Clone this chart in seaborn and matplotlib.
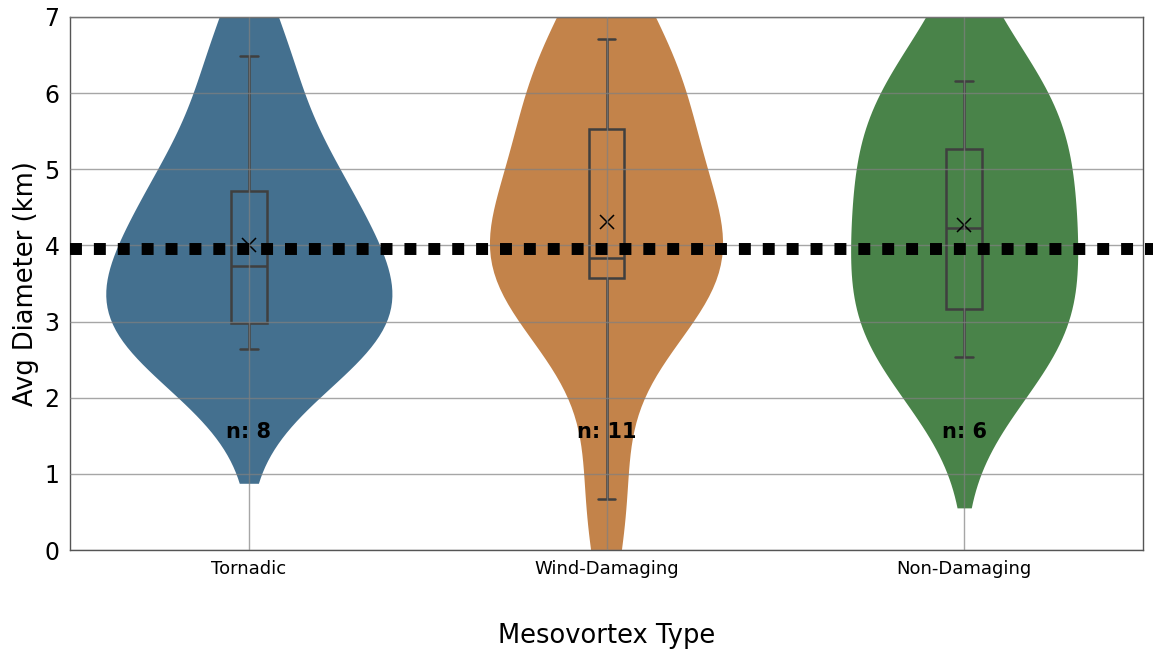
import numpy as np
import pandas as pd
import matplotlib
matplotlib.use("Agg")
import matplotlib.pyplot as plt
import seaborn as sns

# Average mesovortex diameters (km) per category
categories = ["Tornadic", "Wind-Damaging", "Non-Damaging"]
tornadic = [2.64, 2.70, 3.07, 3.45, 4.00, 4.57, 5.13, 6.49]
wind_damaging = [0.67, 3.30, 3.52, 3.63, 3.75, 3.84, 4.60, 5.30, 5.76, 6.34, 6.71]
non_damaging = [2.54, 2.92, 3.90, 4.57, 5.49, 6.16]
threshold = 3.95

df = pd.DataFrame({
    "type": (["Tornadic"] * len(tornadic)
             + ["Wind-Damaging"] * len(wind_damaging)
             + ["Non-Damaging"] * len(non_damaging)),
    "diameter": tornadic + wind_damaging + non_damaging,
})

sns.set_style("white")
plt.rcParams["font.family"] = ["DejaVu Sans"]
plt.rcParams.update({"text.color": "black", "axes.labelcolor": "black",
                     "xtick.color": "black", "ytick.color": "black"})

fig = plt.figure(figsize=(11.53, 6.51), dpi=100)
ax = fig.add_axes([70 / 1153, 101 / 651, 1073 / 1153, 533 / 651])

# One shared density scale (area-normalised) across all three violins
sns.violinplot(data=df, x="type", y="diameter", order=categories,
               color="gray", density_norm="area", inner=None,
               linewidth=0, ax=ax)
palette = [sns.desaturate(c, 0.5) for c in sns.color_palette("tab10", 3)]
for coll, col in zip(ax.collections, palette):
    coll.set_facecolor(col)
    coll.set_edgecolor(col)

sns.boxplot(data=df, x="type", y="diameter", order=categories,
            width=0.1, whis=1.5, showfliers=False, showmeans=True,
            color="#3f3f3f", linecolor="#3f3f3f", linewidth=1.8,
            boxprops=dict(facecolor="none"),
            meanprops=dict(marker="x", markeredgecolor="black",
                           markerfacecolor="black", markersize=10,
                           markeredgewidth=1.1),
            ax=ax)

ax.axhline(threshold, xmin=0, xmax=1.03, color="black",
           linestyle=(0, (1, 1)), linewidth=8.6, clip_on=False, zorder=6)

counts = [len(tornadic), len(wind_damaging), len(non_damaging)]
for i, n in enumerate(counts):
    ax.text(i, 1.55, f"n: {n}", ha="center", va="center",
            fontsize=15, fontweight="bold", color="black", zorder=7)

ax.set_xlim(-0.5, 2.5)
ax.set_ylim(0, 7)
ax.set_yticks(range(0, 8))
ax.set_axisbelow(False)
ax.grid(True, color="gray", alpha=0.7, linewidth=1.0)

ax.tick_params(axis="y", labelsize=17, length=4, color="#555555")
ax.tick_params(axis="x", labelsize=13, length=4, color="#555555")
for sp in ax.spines.values():
    sp.set_color("#555555")
    sp.set_linewidth(1.0)

ax.set_ylabel("Avg Diameter (km)", fontsize=18.5)
ax.set_xlabel("Mesovortex Type", fontsize=18.5, labelpad=32)

fig.savefig("out.png", dpi=100)
